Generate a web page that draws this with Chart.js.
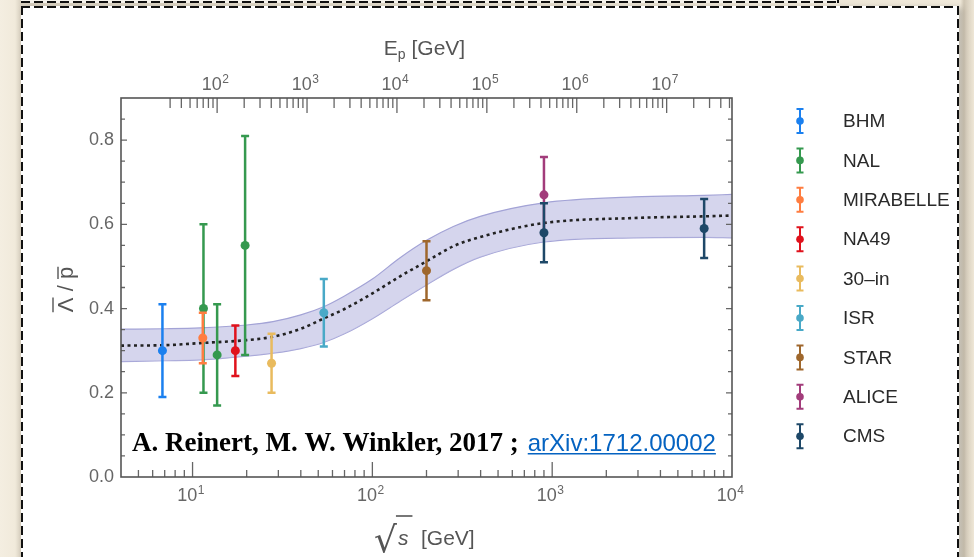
<!DOCTYPE html>
<html lang="en">
<head>
<meta charset="UTF-8">
<title>Antilambda / antiproton ratio</title>
<script src="https://cdn.jsdelivr.net/npm/chart.js@4.4.0/dist/chart.umd.min.js"></script>
<style>
  html, body { margin: 0; padding: 0; }
  body { width: 974px; height: 557px; overflow: hidden; position: relative;
         background: linear-gradient(90deg, #f4eee1 0, #f1eadb 15px, #d8d0c0 21px, #f1eadb 960px, #cfc6b4 964px, #efe7d7 974px); }
  .box { position: absolute; }
  .upper { left: 21px; top: -40px; width: 818px; height: 43px; background: #f6f3ec; }
  .paper { left: 21px; top: 6px; width: 938px; height: 620px; background: #fff;
           box-shadow: 3px 2px 6px rgba(0,0,0,0.25); }
  .dh { position: absolute; height: 2px; background: repeating-linear-gradient(90deg, #111 0 9px, transparent 9px 13px); }
  .dv { position: absolute; width: 2px; background: repeating-linear-gradient(180deg, #111 0 9px, transparent 9px 13px); }
  canvas { position: absolute; left: 0; top: 0; }
</style>
</head>
<body>
<div class="box upper">
  <div class="dh" style="left:0; bottom:0; width:818px"></div>
  <div class="dv" style="right:0; top:0; height:43px"></div>
</div>
<div class="box paper">
  <div class="dh" style="left:0; top:0; width:938px"></div>
  <div class="dv" style="left:0; top:0; height:620px"></div>
  <div class="dv" style="right:0; top:0; height:620px"></div>
</div>
<canvas id="myChart" width="974" height="557"></canvas>
<script>
// axis ranges
var xMin = 4, xMax = 1e4;      // sqrt(s) [GeV]
var yMin = 0, yMax = 0.9;
var mp = 0.938;                // proton mass, for the E_p axis

// fit curve with uncertainty band
var curveX  = [4, 7, 11, 20, 28, 40, 54, 70, 100, 142, 200, 282, 398, 896, 2840, 7000, 10000];
var curveMid= [0.312, 0.313, 0.318, 0.325, 0.333, 0.352, 0.377, 0.399, 0.436, 0.476, 0.512, 0.548, 0.570, 0.603, 0.615, 0.619, 0.621];
var curveLo = [0.274, 0.276, 0.278, 0.287, 0.294, 0.305, 0.320, 0.340, 0.376, 0.417, 0.456, 0.493, 0.522, 0.558, 0.568, 0.569, 0.568];
var curveHi = [0.351, 0.352, 0.354, 0.361, 0.369, 0.385, 0.405, 0.430, 0.470, 0.520, 0.562, 0.595, 0.619, 0.651, 0.665, 0.669, 0.671];

// measurements
var experiments = ['BHM', 'NAL', 'MIRABELLE', 'NA49', '30\u2013in', 'ISR', 'STAR', 'ALICE', 'CMS'];
var expSqrtS = [[6.8], [11.5, 13.7, 19.6], [11.4], [17.3], [27.5], [53.7], [200], [900], [900, 7000]];
var expRatio = [[0.30], [0.40, 0.29, 0.55], [0.33], [0.30], [0.27], [0.39], [0.49], [0.67], [0.58, 0.59]];
var expErr   = [[0.11], [0.20, 0.12, 0.26], [0.06], [0.06], [0.07], [0.08], [0.07], [0.09], [0.07, 0.07]];
var expColors = ['#1b80ef', '#35994f', '#ff7d40', '#e0121c', '#e9bb5e', '#49a9c7', '#9f672c', '#a23c7b', '#1e4868'];

function isPow10(v) {
	var l = Math.log10(v);
	return Math.abs(l - Math.round(l)) < 1e-9;
}
// ticks at 1..9 x 10^n, like the original (no 1.5 ticks)
function decadeTicks(scale, from) {
	var ticks = [];
	for (var e = Math.floor(Math.log10(scale.min)); e <= Math.ceil(Math.log10(scale.max)); e++) {
		for (var m = 1; m < 10; m++) {
			var v = m * Math.pow(10, e);
			if (v >= from && v > scale.min * 1.0001 && v <= scale.max * 1.0001) ticks.push({value: v, major: m === 1});
		}
	}
	scale.ticks = ticks;
}

function xy(xs, ys) {
	return xs.map(function(x, i) { return {x: x, y: ys[i]}; });
}

var datasets = [];
experiments.forEach(function(name, i) {
	datasets.push({
		label: name,
		data: expSqrtS[i].map(function(x, j) { return {x: x, y: expRatio[i][j], err: expErr[i][j]}; }),
		showLine: false,
		errBars: true,
		borderColor: expColors[i],
		backgroundColor: expColors[i],
		pointRadius: 4.5,
		pointBorderWidth: 0,
		order: experiments.length - i
	});
});
datasets.push({
	label: 'band low', data: xy(curveX, curveLo),
	borderColor: '#a3a3d6', borderWidth: 1.2, pointRadius: 0, fill: false,
	cubicInterpolationMode: 'monotone', order: 30
});
datasets.push({
	label: 'band high', data: xy(curveX, curveHi),
	borderColor: '#a3a3d6', borderWidth: 1.2, pointRadius: 0,
	fill: '-1', backgroundColor: 'rgba(190,190,228,0.65)',
	cubicInterpolationMode: 'monotone', order: 29
});
datasets.push({
	label: 'fit', data: xy(curveX, curveMid),
	borderColor: '#222', borderWidth: 2.6, borderDash: [3, 3.5], pointRadius: 0, fill: false,
	cubicInterpolationMode: 'monotone', order: 20
});

var tickFont = {family: 'Liberation Sans', size: 18};
var tickColor = '#666';

// "10" with a raised exponent, centred on each decade tick
function powLabels(ctx, scale, baseline) {
	scale.ticks.forEach(function(t) {
		if (!isPow10(t.value)) return;
		var p = scale.getPixelForValue(t.value);
		var ex = String(Math.round(Math.log10(t.value)));
		ctx.font = '18px "Liberation Sans"';
		var w1 = ctx.measureText('10').width;
		ctx.font = '12px "Liberation Sans"';
		var w2 = ctx.measureText(ex).width;
		var x0 = p - (w1 + w2) / 2 - 2;
		ctx.font = '18px "Liberation Sans"';
		ctx.fillText('10', x0, baseline);
		ctx.font = '12px "Liberation Sans"';
		ctx.fillText(ex, x0 + w1 + 0.5, baseline - 7);
	});
}

// frame, inward ticks, error bars, titles, legend
var decor = {
	id: 'decor',
	afterDatasetDraw: function(chart, args) {
		var ds = chart.data.datasets[args.index];
		if (!ds.errBars) return;
		var ctx = chart.ctx, xs = chart.scales.x, ys = chart.scales.y;
		ctx.save();
		ctx.strokeStyle = ds.borderColor;
		ctx.lineWidth = 2.5;
		ds.data.forEach(function(p) {
			var px = xs.getPixelForValue(p.x);
			var t = ys.getPixelForValue(p.y + p.err), b = ys.getPixelForValue(p.y - p.err);
			ctx.beginPath();
			ctx.moveTo(px, t); ctx.lineTo(px, b);
			ctx.moveTo(px - 4, t); ctx.lineTo(px + 4, t);
			ctx.moveTo(px - 4, b); ctx.lineTo(px + 4, b);
			ctx.stroke();
		});
		ctx.restore();
	},
	afterDraw: function(chart) {
		var ctx = chart.ctx, a = chart.chartArea;
		var xs = chart.scales.x, x2 = chart.scales.x2, ys = chart.scales.y;
		ctx.save();
		// ticks
		ctx.strokeStyle = '#666';
		ctx.lineWidth = 1.3;
		ctx.beginPath();
		xs.ticks.forEach(function(t) {
			var p = xs.getPixelForValue(t.value);
			if (p <= a.left + 1 || p >= a.right - 1) return;
			var len = isPow10(t.value) ? 15 : 7;
			ctx.moveTo(p, a.bottom); ctx.lineTo(p, a.bottom - len);
		});
		x2.ticks.forEach(function(t) {
			var p = x2.getPixelForValue(t.value);
			if (p <= a.left + 1 || p >= a.right - 1) return;
			var len = isPow10(t.value) ? 15 : 10;
			ctx.moveTo(p, a.top); ctx.lineTo(p, a.top + len);
		});
		ys.ticks.forEach(function(t) {
			var p = ys.getPixelForValue(t.value);
			if (p <= a.top + 1 || p >= a.bottom - 1) return;
			var len = Math.abs(t.value * 5 - Math.round(t.value * 5)) < 1e-6 ? 6 : 4;
			ctx.moveTo(a.left, p); ctx.lineTo(a.left + len, p);
			ctx.moveTo(a.right, p); ctx.lineTo(a.right - len, p);
		});
		ctx.stroke();
		// frame
		ctx.strokeStyle = '#555';
		ctx.lineWidth = 1.6;
		ctx.strokeRect(a.left, a.top, a.right - a.left, a.bottom - a.top);

		// decade labels on both log axes
		ctx.fillStyle = tickColor;
		ctx.textBaseline = 'alphabetic';
		ctx.textAlign = 'left';
		powLabels(ctx, xs, a.bottom + 24);
		powLabels(ctx, x2, a.top - 8);

		// top axis title: E_p [GeV]
		ctx.fillStyle = '#555';
		var big = '21px "Liberation Sans"', small = '14px "Liberation Sans"';
		ctx.font = big; var wE = ctx.measureText('E').width, wG = ctx.measureText(' [GeV]').width;
		ctx.font = small; var wp = ctx.measureText('p').width;
		var tx = (a.left + a.right) / 2 - 2 - (wE + wp + wG) / 2, ty = a.top - 43;
		ctx.font = big; ctx.fillText('E', tx, ty);
		ctx.font = small; ctx.fillText('p', tx + wE, ty + 4);
		ctx.font = big; ctx.fillText(' [GeV]', tx + wE + wp, ty);

		// bottom axis title: sqrt(s) [GeV]
		var by = a.bottom + 68, bx = 374;
		ctx.font = '36px "DejaVu Sans"';
		ctx.fillText('\u221a', bx, by + 7);
		var wr = ctx.measureText('\u221a').width;
		ctx.font = 'italic 21px "Liberation Sans"';
		ctx.fillText('s', bx + wr + 1, by);
		var ws = ctx.measureText('s').width;
		ctx.font = big;
		ctx.fillText('[GeV]', 421, by);
		ctx.beginPath();
		ctx.lineWidth = 1.6; ctx.strokeStyle = '#555';
		ctx.moveTo(bx + wr - 1, a.bottom + 39); ctx.lineTo(bx + wr + ws + 5, a.bottom + 39);
		ctx.stroke();

		// y axis title: antiLambda / antiproton
		ctx.save();
		ctx.translate(73, (a.top + a.bottom) / 2 + 2);
		ctx.rotate(-Math.PI / 2);
		ctx.font = '22px "Liberation Sans"';
		var wL = ctx.measureText('\u039b').width, wS = ctx.measureText(' / ').width, wP = ctx.measureText('p').width;
		var sx = -(wL + wS + wP) / 2;
		ctx.fillText('\u039b / p', sx, 0);
		ctx.beginPath();
		ctx.lineWidth = 1.4;
		ctx.moveTo(sx, -20); ctx.lineTo(sx + wL, -20);
		ctx.moveTo(sx + wL + wS, -15); ctx.lineTo(sx + wL + wS + wP, -15);
		ctx.stroke();
		ctx.restore();

		// legend
		var lx = a.right + 68, ly = a.top + 23, step = 39.4;
		chart.data.datasets.filter(function(d) { return d.errBars; }).forEach(function(d, i) {
			var y = ly + i * step;
			ctx.strokeStyle = d.borderColor; ctx.fillStyle = d.borderColor;
			ctx.lineWidth = 2;
			ctx.beginPath();
			ctx.moveTo(lx, y - 12); ctx.lineTo(lx, y + 12);
			ctx.moveTo(lx - 3.5, y - 12); ctx.lineTo(lx + 3.5, y - 12);
			ctx.moveTo(lx - 3.5, y + 12); ctx.lineTo(lx + 3.5, y + 12);
			ctx.stroke();
			ctx.beginPath(); ctx.arc(lx, y, 3.8, 0, 2 * Math.PI); ctx.fill();
			ctx.fillStyle = '#2a2a2a';
			ctx.font = '19px "Liberation Sans"';
			ctx.textBaseline = 'middle';
			ctx.fillText(d.label, lx + 43, y + 1);
		});

		// credit line
		ctx.textBaseline = 'alphabetic';
		ctx.fillStyle = '#000';
		ctx.font = 'bold 27px "Liberation Serif"';
		var credit = 'A. Reinert, M. W. Winkler, 2017 ;';
		ctx.fillText(credit, a.left + 11, a.bottom - 26);
		var lk = a.left + 11 + ctx.measureText(credit).width + 9;
		ctx.fillStyle = '#0563c1';
		ctx.font = '24px "Liberation Sans"';
		var link = 'arXiv:1712.00002';
		ctx.fillText(link, lk, a.bottom - 26);
		ctx.fillRect(lk, a.bottom - 24, ctx.measureText(link).width, 1.5);
		ctx.restore();
	}
};

var ctx = document.getElementById('myChart');
var myChart = new Chart(ctx, {
	type: 'line',
	data: {datasets: datasets},
	options: {
		responsive: false,
		animation: false,
		layout: {padding: {left: 0, right: 242, top: 0, bottom: 0}},
		plugins: {legend: {display: false}, tooltip: {enabled: false}},
		scales: {
			x: {
				type: 'logarithmic', position: 'bottom', min: xMin, max: xMax,
				grid: {display: false, drawTicks: false},
				border: {display: false},
				afterBuildTicks: function(s) { decadeTicks(s, xMin); },
				afterFit: function(s) { s.height = 80; },
				ticks: {display: false, font: tickFont, autoSkip: false, maxRotation: 0}
			},
			x2: {
				type: 'logarithmic', position: 'top',
				min: xMin * xMin / (2 * mp), max: xMax * xMax / (2 * mp),
				grid: {display: false, drawTicks: false},
				border: {display: false},
				afterBuildTicks: function(s) { decadeTicks(s, 30); },
				afterFit: function(s) { s.height = 98; },
				ticks: {display: false, font: tickFont, autoSkip: false, maxRotation: 0}
			},
			y: {
				min: yMin, max: yMax,
				grid: {display: false, drawTicks: false},
				border: {display: false},
				afterFit: function(s) { s.width = 121; },
				ticks: {font: tickFont, color: tickColor, padding: 7, stepSize: 0.05, autoSkip: false,
					callback: function(v) {
						return Math.abs(v * 5 - Math.round(v * 5)) < 1e-6 ? v.toFixed(1) : '';
					}}
			}
		}
	},
	plugins: [decor]
});
</script>
</body>
</html>
